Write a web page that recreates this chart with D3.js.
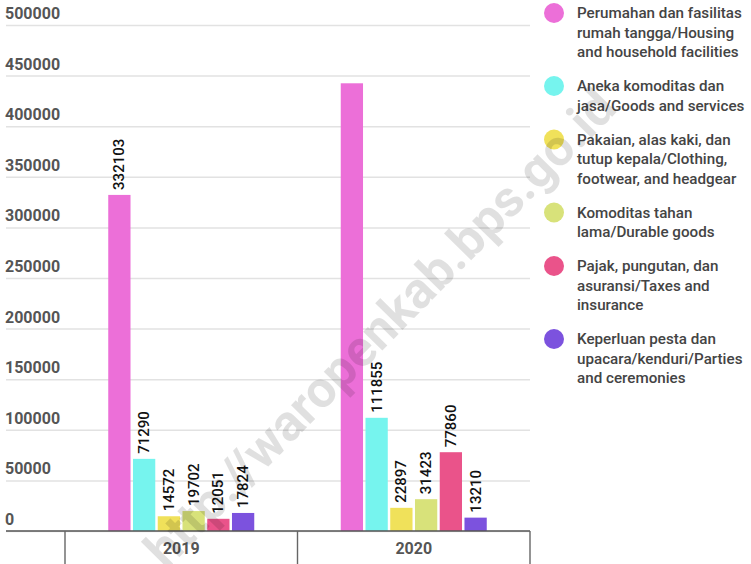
<!DOCTYPE html>
<html>
<head>
<meta charset="utf-8">
<script src="https://cdn.jsdelivr.net/npm/d3@7/dist/d3.min.js"></script>
<style>
  html, body { margin: 0; padding: 0; background: #fff; }
  svg { display: block; font-family: Roboto, "Noto Sans", sans-serif; }
</style>
</head>
<body>
<svg id="chart" width="751" height="564"></svg>
<script>
// Household expenditure by group (non-food), 2019 and 2020
const years = ["2019", "2020"];
const seriesNames = [
  "Perumahan dan fasilitas rumah tangga/Housing and household facilities",
  "Aneka komoditas dan jasa/Goods and services",
  "Pakaian, alas kaki, dan tutup kepala/Clothing, footwear, and headgear",
  "Komoditas tahan lama/Durable goods",
  "Pajak, pungutan, dan asuransi/Taxes and insurance",
  "Keperluan pesta dan upacara/kenduri/Parties and ceremonies"
];
const legendLines = [
  ["Perumahan dan fasilitas", "rumah tangga/Housing", "and household facilities"],
  ["Aneka komoditas dan", "jasa/Goods and services"],
  ["Pakaian, alas kaki, dan", "tutup kepala/Clothing,", "footwear, and headgear"],
  ["Komoditas tahan", "lama/Durable goods"],
  ["Pajak, pungutan, dan", "asuransi/Taxes and", "insurance"],
  ["Keperluan pesta dan", "upacara/kenduri/Parties", "and ceremonies"]
];
const values2019 = [332103, 71290, 14572, 19702, 12051, 17824];
const values2020 = [442400, 111855, 22897, 31423, 77860, 13210];
// the 2020 housing bar carries no value label
const labelled2019 = [true, true, true, true, true, true];
const labelled2020 = [false, true, true, true, true, true];
const colors = ["#ec6fd8", "#76f4ee", "#f0e15a", "#d8e27a", "#ea538a", "#7c52de"];
const yTicks = [0, 50000, 100000, 150000, 200000, 250000, 300000, 350000, 400000, 450000, 500000];

const rows = years.map((yr, i) => ({
  year: yr,
  values: (i === 0 ? values2019 : values2020),
  labelled: (i === 0 ? labelled2019 : labelled2020)
}));

const svg = d3.select("#chart");

const plotLeft = 6, plotRight = 530, plotTop = 25, plotBottom = 531;
const bandLeft = 65;

const y = d3.scaleLinear().domain([0, 500000]).range([plotBottom, plotTop]);
const x0 = d3.scaleBand().domain(years).range([bandLeft, plotRight]);
const groupWidth = 146;
const x1 = d3.scaleBand().domain(d3.range(seriesNames.length))
  .range([0, groupWidth]).paddingInner(0.1);

// gridlines
const grid = svg.append("g")
  .attr("transform", `translate(${plotRight},0)`)
  .call(d3.axisLeft(y).tickValues(yTicks).tickSize(plotRight - plotLeft).tickFormat(""));
grid.select(".domain").remove();
grid.selectAll(".tick line").attr("stroke", "#e2e2e2").attr("stroke-width", 1.5);

// y tick labels, sitting above each gridline
svg.append("g").selectAll("text").data(yTicks).join("text")
  .attr("x", plotLeft - 1)
  .attr("y", d => y(d) - 6)
  .attr("fill", "#555")
  .attr("font-size", 16)
  .attr("font-weight", 700)
  .text(d => d);

// bars
const groups = svg.append("g").selectAll("g").data(rows).join("g")
  .attr("transform", d => `translate(${x0(d.year) + (x0.bandwidth() - groupWidth) / 2},0)`);

groups.selectAll("rect").data(d => d.values.map((v, i) => ({ v, i })))
  .join("rect")
  .attr("x", d => x1(d.i))
  .attr("width", x1.bandwidth())
  .attr("y", d => y(d.v))
  .attr("height", d => y(0) - y(d.v))
  .attr("fill", d => colors[d.i]);

// value labels, rotated
groups.selectAll("text.val")
  .data(d => d.values.map((v, i) => ({ v, i, show: d.labelled[i] })).filter(d => d.show))
  .join("text")
  .attr("class", "val")
  .attr("transform", d => `translate(${x1(d.i) + x1.bandwidth() / 2 + 5},${y(d.v) - 5}) rotate(-90)`)
  .attr("fill", "#111")
  .attr("font-size", 15)
  .attr("font-weight", 500)
  .text(d => d.v);

// x axis baseline and category dividers
const xAxis = svg.append("g").attr("transform", `translate(0,${plotBottom})`);
xAxis.append("line")
  .attr("x1", plotLeft).attr("x2", plotRight)
  .attr("stroke", "#555").attr("stroke-width", 1.6);
const dividers = [bandLeft].concat(years.map(yr => x0(yr) + x0.bandwidth()));
xAxis.selectAll("line.div").data(dividers).join("line")
  .attr("class", "div")
  .attr("x1", d => d).attr("x2", d => d)
  .attr("y1", 0).attr("y2", 40)
  .attr("stroke", "#666").attr("stroke-width", 1.4);
xAxis.selectAll("text").data(years).join("text")
  .attr("x", d => x0(d) + x0.bandwidth() / 2)
  .attr("y", 23)
  .attr("text-anchor", "middle")
  .attr("fill", "#555")
  .attr("font-size", 16)
  .attr("font-weight", 700)
  .text(d => d);

// legend
const legend = svg.append("g");
let ly = 13;
legendLines.forEach((lines, i) => {
  const item = legend.append("g");
  item.append("circle")
    .attr("cx", 554).attr("cy", ly).attr("r", 10)
    .attr("fill", colors[i]);
  const t = item.append("text")
    .attr("fill", "#444")
    .attr("font-size", 15.2)
    .attr("font-weight", 500);
  lines.forEach((ln, j) => {
    t.append("tspan")
      .attr("x", 577)
      .attr("y", ly + 5 + j * 19.5)
      .text(ln);
  });
  ly += (lines.length - 1) * 19.5 + 34;
});

// site watermark across the plot
svg.append("text")
  .attr("transform", "translate(380,328) rotate(-45.5)")
  .attr("text-anchor", "middle")
  .attr("dominant-baseline", "central")
  .attr("fill", "#000")
  .attr("fill-opacity", 0.12)
  .attr("font-size", 51)
  .attr("font-weight", 700)
  .text("http://waropenkab.bps.go.id");
</script>
</body>
</html>
